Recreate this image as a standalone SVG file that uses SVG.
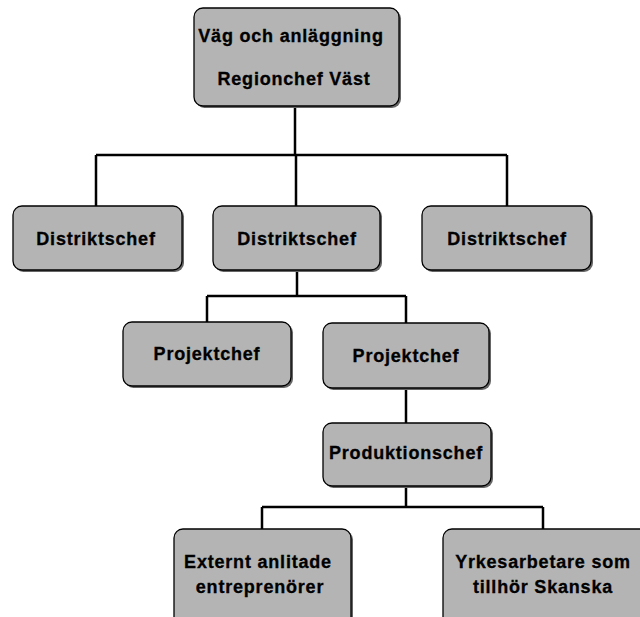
<svg xmlns="http://www.w3.org/2000/svg" width="640" height="617" viewBox="0 0 640 617">
<style>
.sh{fill:#666}
.bx{fill:#b4b4b4;stroke:#000;stroke-width:1.3}
.t{font-family:"Liberation Sans",Arial,sans-serif;font-weight:bold;font-size:18px;letter-spacing:0.8px;fill:#000;stroke:#000;stroke-width:0.3;text-anchor:middle}
.c{fill:none;stroke:#000;stroke-width:2.5}
</style>
<rect width="640" height="617" fill="#fff"/>
<g id="connectors">
<path class="c" d="M295 107V155M96 155H507M96 155V206M296 155V206M507 155V206"/>
<path class="c" d="M297 271V296M207 296H406M207 296V322M406 296V323"/>
<path class="c" d="M406 389V423"/>
<path class="c" d="M406 487V507M262 507H543M262 507V529M543 507V529"/>
</g>
<g id="n-region">
<rect class="sh" x="195.5" y="9.5" width="205.5" height="98.5" rx="9"/>
<rect class="bx" x="194" y="8" width="205" height="98" rx="9"/>
<text class="t" x="291" y="42">Väg och anläggning</text>
<text class="t" x="294" y="85">Regionchef Väst</text>
</g>
<g id="n-d1">
<rect class="sh" x="14.5" y="207.5" width="169.5" height="64.5" rx="9"/>
<rect class="bx" x="13" y="206" width="169" height="64" rx="9"/>
<text class="t" x="96" y="245">Distriktschef</text>
</g>
<g id="n-d2">
<rect class="sh" x="214.5" y="207.5" width="167.5" height="64.5" rx="9"/>
<rect class="bx" x="213" y="206" width="167" height="64" rx="9"/>
<text class="t" x="297" y="245">Distriktschef</text>
</g>
<g id="n-d3">
<rect class="sh" x="423.5" y="207.5" width="169.5" height="64.5" rx="9"/>
<rect class="bx" x="422" y="206" width="169" height="64" rx="9"/>
<text class="t" x="507" y="245">Distriktschef</text>
</g>
<g id="n-p1">
<rect class="sh" x="124.5" y="323.5" width="168.5" height="64.5" rx="9"/>
<rect class="bx" x="123" y="322" width="168" height="64" rx="9"/>
<text class="t" x="207" y="360">Projektchef</text>
</g>
<g id="n-p2">
<rect class="sh" x="324.5" y="324.5" width="166.5" height="65.5" rx="9"/>
<rect class="bx" x="323" y="323" width="166" height="65" rx="9"/>
<text class="t" x="406" y="362">Projektchef</text>
</g>
<g id="n-prod">
<rect class="sh" x="324.5" y="424.5" width="168.5" height="63.5" rx="9"/>
<rect class="bx" x="323" y="423" width="168" height="63" rx="9"/>
<text class="t" x="406" y="459">Produktionschef</text>
</g>
<g id="n-ext">
<rect class="sh" x="175.5" y="530.5" width="177.5" height="99.5" rx="9"/>
<rect class="bx" x="174" y="529" width="177" height="99" rx="9"/>
<text class="t" x="258" y="568">Externt anlitade</text>
<text class="t" x="260" y="593">entreprenörer</text>
</g>
<g id="n-yrk">
<rect class="sh" x="444.5" y="530.5" width="209.5" height="99.5" rx="9"/>
<rect class="bx" x="443" y="529" width="209" height="99" rx="9"/>
<text class="t" x="543" y="568">Yrkesarbetare som</text>
<text class="t" x="543" y="593">tillhör Skanska</text>
</g>
</svg>
